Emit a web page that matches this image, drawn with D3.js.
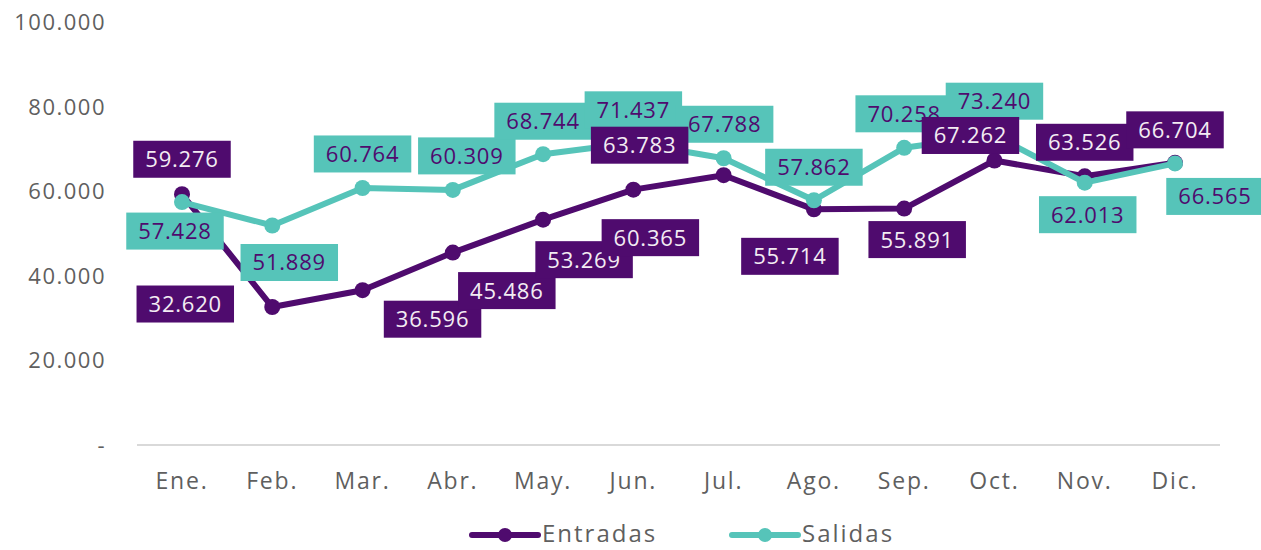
<!DOCTYPE html>
<html>
<head>
<meta charset="utf-8">
<script src="https://cdn.jsdelivr.net/npm/d3@7/dist/d3.min.js"></script>
<style>
  body { margin: 0; background: #fff; }
  svg text { font-family: "Open Sans", sans-serif; }
</style>
</head>
<body>
<div class="js-chart"></div>
<script>
'use strict';

// months on the x axis
var months = ['Ene.', 'Feb.', 'Mar.', 'Abr.', 'May.', 'Jun.', 'Jul.', 'Ago.', 'Sep.', 'Oct.', 'Nov.', 'Dic.'];

// series values
var entradas = [59276, 32620, 36596, 45486, 53269, 60365, 63783, 55714, 55891, 67262, 63526, 66704];
var salidas = [57428, 51889, 60764, 60309, 68744, 71437, 67788, 57862, 70258, 73240, 62013, 66565];

// y ticks
var yTicks = [0, 20000, 40000, 60000, 80000, 100000];

// label offsets (dx, dy) from each point, as placed in the original
var entradasLabelOff = [[0, -35], [-87, -3], [70, 29], [54, 38], [41, 40], [17, 48],
    [-84, -30], [-24, 47], [13, 31], [-24, -25], [0, -34], [0, -33]];
var salidasLabelOff = [[-7, 29], [17, 37], [0, -34], [14, -34], [0, -33], [0, -33],
    [1, -34], [0, -33], [0, -34], [0, -34], [3, 32], [40, 33]];

var purple = '#4f0b6e';
var teal = '#56c4b9';
var grey = '#5f5f5f';

var W = 1261, H = 550;
var svg = d3.select('.js-chart').append('svg')
    .attr('width', W)
    .attr('height', H);

var x = d3.scalePoint().domain(months).range([182, 1175]);
var y = d3.scaleLinear().domain([0, 100000]).range([445, 22]);

function fmt(v) {
    return v === 0 ? '-' : d3.format(',')(v).replace(/,/g, '.');
}

//axis line at zero
svg.append('line')
    .attr('x1', 137).attr('x2', 1220)
    .attr('y1', y(0)).attr('y2', y(0))
    .style('stroke', '#d9d9d9')
    .style('stroke-width', 2);

//y tick labels
svg.selectAll('.js-ytick').data(yTicks).enter().append('text')
    .attr('class', 'js-ytick')
    .attr('x', 106)
    .attr('y', function (d) { return y(d); })
    .attr('dy', '0.36em')
    .attr('text-anchor', 'end')
    .style('font-size', '22px')
    .style('letter-spacing', '1.5px')
    .style('fill', grey)
    .text(fmt);

//x tick labels
svg.selectAll('.js-xtick').data(months).enter().append('text')
    .attr('class', 'js-xtick')
    .attr('x', function (d) { return x(d); })
    .attr('y', 481)
    .attr('dy', '0.36em')
    .attr('text-anchor', 'middle')
    .style('font-size', '23px')
    .style('letter-spacing', '1.8px')
    .style('fill', grey)
    .text(function (d) { return d; });

var line = d3.line()
    .x(function (d, i) { return x(months[i]); })
    .y(function (d) { return y(d); });

function drawSeries(values, color) {
    svg.append('path')
        .datum(values)
        .attr('d', line)
        .style('fill', 'none')
        .style('stroke', color)
        .style('stroke-width', 6)
        .style('stroke-linejoin', 'round');
    svg.selectAll(null).data(values).enter().append('circle')
        .attr('cx', function (d, i) { return x(months[i]); })
        .attr('cy', function (d) { return y(d); })
        .attr('r', 8)
        .style('fill', color);
}

drawSeries(entradas, purple);
drawSeries(salidas, teal);

//data labels in boxes
function drawLabels(values, offs, boxColor, textColor) {
    values.forEach(function (v, i) {
        var cx = x(months[i]) + offs[i][0];
        var cy = y(v) + offs[i][1];
        var g = svg.append('g');
        var rect = g.append('rect').style('fill', boxColor);
        var t = g.append('text')
            .attr('x', cx)
            .attr('y', cy)
            .attr('dy', '0.36em')
            .attr('text-anchor', 'middle')
            .style('font-size', '22px')
            .style('letter-spacing', '0.8px')
            .style('fill', textColor)
            .text(fmt(v));
        var w = t.node().getComputedTextLength() + 24;
        rect.attr('x', cx - w / 2)
            .attr('y', cy - 18.5)
            .attr('width', w)
            .attr('height', 37);
    });
}

drawLabels(salidas, salidasLabelOff, teal, purple);
drawLabels(entradas, entradasLabelOff, purple, '#f3ecf3');

//legend
var legend = [['Entradas', purple, 472], ['Salidas', teal, 732]];
legend.forEach(function (l) {
    var g = svg.append('g');
    g.append('line')
        .attr('x1', l[2]).attr('x2', l[2] + 66)
        .attr('y1', 535).attr('y2', 535)
        .style('stroke', l[1])
        .style('stroke-width', 6)
        .style('stroke-linecap', 'round');
    g.append('circle')
        .attr('cx', l[2] + 33).attr('cy', 535).attr('r', 7)
        .style('fill', l[1]);
    g.append('text')
        .attr('x', l[2] + 70)
        .attr('y', 542)
        .style('font-size', '24px')
        .style('letter-spacing', '2px')
        .style('fill', grey)
        .text(l[0]);
});
</script>
</body>
</html>
